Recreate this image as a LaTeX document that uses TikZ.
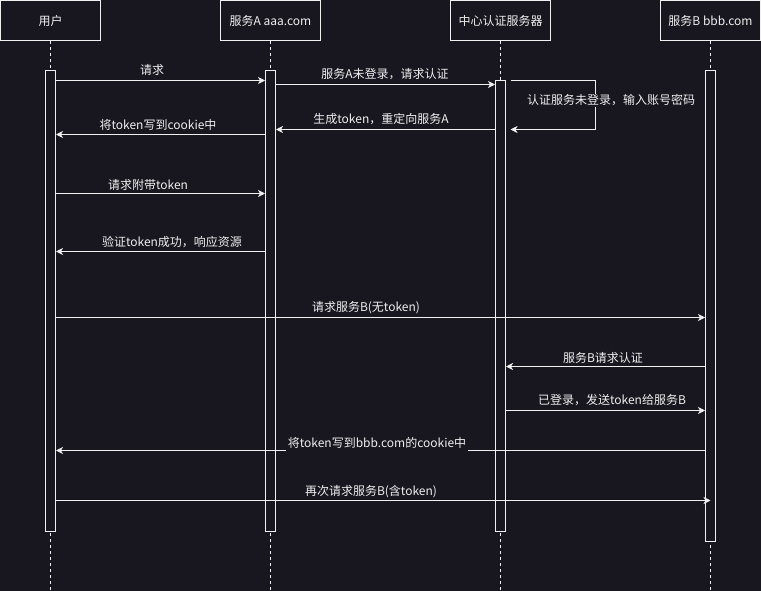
\documentclass[tikz,border=0pt]{standalone}
\usepackage{fontspec}
\setmainfont{Noto Sans CJK SC}
\usetikzlibrary{arrows.meta,calc}
\definecolor{bg}{HTML}{18161F}
\definecolor{fg}{HTML}{F0F0F0}
\tikzset{
  every node/.style={font=\fontsize{12}{14}\selectfont, text=fg},
  head/.style={draw=fg, line width=1pt, fill=bg, minimum width=100pt, minimum height=40pt, inner sep=0pt},
  bar/.style={draw=fg, fill=bg, line width=1pt, minimum width=10pt, inner sep=0pt, anchor=north},
  life/.style={draw=fg, dash pattern=on 3pt off 3pt, line width=0.8pt},
  msg/.style={draw=fg, line width=1pt, -{Stealth[length=7pt,width=7pt,inset=2pt]}},
  lbl/.style={fill=bg, inner sep=1pt}
}
\begin{document}
\begin{tikzpicture}[x=1pt,y=-1pt]
\fill[bg] (0,0) rectangle (761,591);
\useasboundingbox (0,0) rectangle (761,591);
% headers
\node[head] (h1) at (50.5,20.5) {用户};
\node[head] (h2) at (270.5,20.5) {服务A aaa.com};
\node[head] (h3) at (500.5,20.5) {中心认证服务器};
\node[head] (h4) at (710.5,20.5) {服务B bbb.com};
% lifeline ends
\coordinate (e1) at (50.5,591);
\coordinate (e2) at (270.5,591);
\coordinate (e3) at (500.5,591);
\coordinate (e4) at (710.5,591);
\draw[life] (h1.south) -- (e1);
\draw[life] (h2.south) -- (e2);
\draw[life] (h3.south) -- (e3);
\draw[life] (h4.south) -- (e4);
% activation bars
\node[bar, minimum height=460pt] (b1) at (50.5,70.5) {};
\node[bar, minimum height=460pt] (b2) at (270.5,70.5) {};
\node[bar, minimum height=450pt] (b3) at (500.5,80.5) {};
\node[bar, minimum height=470pt] (b4) at (710.5,70.5) {};
% messages
\draw[msg] (b1.east |- 0,80.5) -- (b2.west |- 0,80.5);
\node[lbl] (l1) at (152,70) {请求};
\draw[msg] (b2.east |- 0,84.5) -- (b3.west |- 0,84.5);
\node[lbl] (l2) at (385,74) {服务A未登录，请求认证};
% self loop
\coordinate (s0) at (510.5,80.5);
\coordinate (s1) at (595.5,80.5);
\coordinate (s2) at (595.5,129.5);
\coordinate (s3) at (510.5,129.5);
\draw[msg] (s0) -- (s1) -- (s2) -- (s3);
\node[lbl] (l3) at (611,100.5) {认证服务未登录，输入账号密码};
\draw[msg] (b3.west |- 0,129.5) -- (b2.east |- 0,129.5);
\node[lbl] (l4) at (381,119) {生成token，重定向服务A};
\draw[msg] (b2.west |- 0,134.5) -- (b1.east |- 0,134.5);
\node[lbl] (l5) at (158,124.5) {将token写到cookie中};
\draw[msg] (b1.east |- 0,193.5) -- (b2.west |- 0,193.5);
\node[lbl] (l6) at (148,184.5) {请求附带token};
\draw[msg] (b2.west |- 0,251.5) -- (b1.east |- 0,251.5);
\node[lbl] (l7) at (172,242.5) {验证token成功，响应资源};
\draw[msg] (b1.east |- 0,317.5) -- (b4.west |- 0,317.5);
\node[lbl] (l8) at (366,308) {请求服务B(无token)};
\draw[msg] (b4.west |- 0,366.5) -- (b3.east |- 0,366.5);
\node[lbl] (l9) at (603,357.5) {服务B请求认证};
\draw[msg] (b3.east |- 0,410.5) -- (b4.west |- 0,410.5);
\node[lbl] (l10) at (612,400) {已登录，发送token给服务B};
\draw[msg] (b4.west |- 0,450.5) -- (b1.east |- 0,450.5);
\node[lbl, inner sep=2pt] (l11) at (377,443) {将token写到bbb.com的cookie中};
\draw[msg] (b1.east |- 0,500.5) -- (b4.center |- 0,500.5);
\node[lbl] (l12) at (371,491.5) {再次请求服务B(含token)};
\end{tikzpicture}
\end{document}
